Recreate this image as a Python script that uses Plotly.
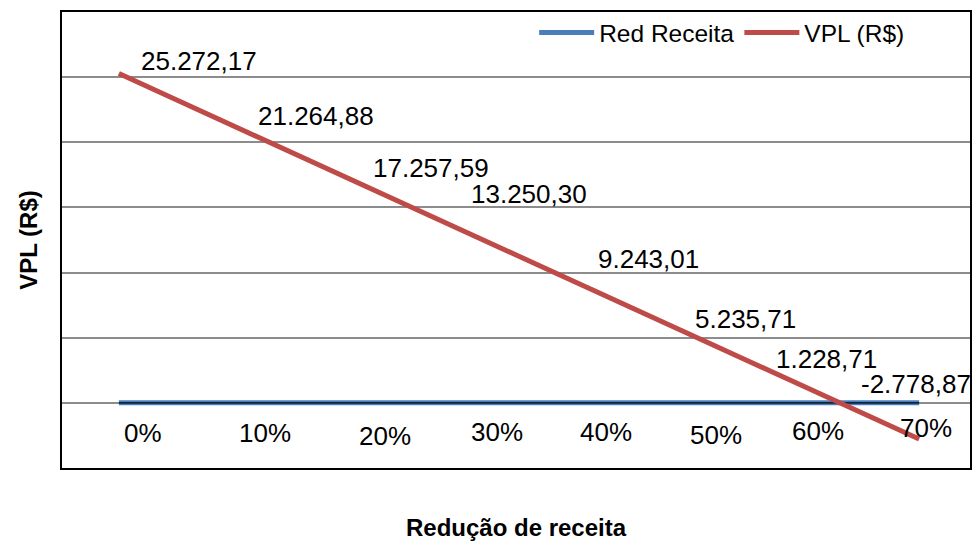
import plotly.graph_objects as go

# Revenue reduction scenarios and the resulting net present value
reducao = [0.0, 0.1, 0.2, 0.3, 0.4, 0.5, 0.6, 0.7]
vpl = [25272.17, 21264.88, 17257.59, 13250.30, 9243.01, 5235.71, 1228.71, -2778.87]
idx = list(range(len(reducao)))

FONT = "Liberation Sans, Arial, sans-serif"
BLUE = "#4a7ebb"
RED = "#be4b48"


def fmt_brl(v):
    s = f"{v:,.2f}"
    return s.replace(",", "X").replace(".", ",").replace("X", ".")


def fmt_pct(p):
    return f"{round(p * 100)}%"


# label offsets (pixels) from each point, as laid out in the sheet
vpl_shift = [(80, 13), (83, 10), (83, 10), (67, 36), (72, 23), (55, 16), (22, 28), (-3, 55)]
red_shift = [(24, -30), (32, -30), (37, -33), (35, -29), (30, -29), (26, -32), (13, -28), (7, -25)]

fig = go.Figure()

fig.add_trace(go.Scatter(
    x=idx, y=reducao, mode="lines", name="Red Receita",
    line=dict(color=BLUE, width=5),
))
fig.add_trace(go.Scatter(
    x=idx, y=reducao, mode="lines", showlegend=False, hoverinfo="skip",
    line=dict(color="#10243e", width=1.6),
))
fig.add_trace(go.Scatter(
    x=idx, y=vpl, mode="lines", name="VPL (R$)",
    line=dict(color=RED, width=5),
))

annotations = []
for i, v in enumerate(vpl):
    dx, dy = vpl_shift[i]
    annotations.append(dict(
        x=idx[i], y=v, xref="x", yref="y", text=fmt_brl(v), showarrow=False,
        xshift=dx, yshift=dy, font=dict(family=FONT, size=26, color="black"),
    ))
for i, p in enumerate(reducao):
    dx, dy = red_shift[i]
    annotations.append(dict(
        x=idx[i], y=p, xref="x", yref="y", text=fmt_pct(p), showarrow=False,
        xshift=dx, yshift=dy, font=dict(family=FONT, size=26, color="black"),
    ))

fig.update_layout(
    width=978, height=546,
    margin=dict(l=62, r=6, t=12, b=78),
    paper_bgcolor="white", plot_bgcolor="white",
    font=dict(family=FONT, size=25, color="black"),
    showlegend=True,
    legend=dict(
        orientation="h", x=0.52, xanchor="left", y=0.955, yanchor="middle",
        bgcolor="rgba(0,0,0,0)", font=dict(size=24.5), itemwidth=55,
        tracegroupgap=0,
    ),
    annotations=annotations,
    xaxis=dict(
        range=[-0.4975, 7.445], showticklabels=False, showgrid=False,
        zeroline=False, showline=True, linecolor="black", linewidth=1.5,
        mirror=True, ticks="",
        title=dict(text="<b>Redução de receita</b>", standoff=50,
                   font=dict(size=24)),
    ),
    yaxis=dict(
        range=[-5000, 30000], dtick=5000, showticklabels=False,
        showgrid=True, gridcolor="#8c8c8c", gridwidth=1.5, zeroline=False,
        showline=True, linecolor="black", linewidth=1.5, mirror=True, ticks="",
        title=dict(text="<b>VPL (R$)</b>", standoff=16, font=dict(size=24)),
    ),
)

fig.write_html("out.html")
